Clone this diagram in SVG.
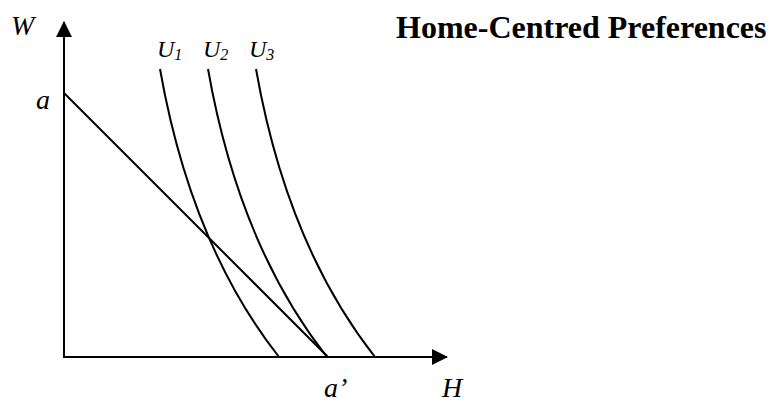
<svg xmlns="http://www.w3.org/2000/svg" width="773" height="403" viewBox="0 0 773 403">
<style>
.ax{stroke:#000;stroke-width:2;fill:none}
.ln{stroke:#000;stroke-width:2;fill:none}
.it{font-family:"Liberation Serif","Times New Roman",serif;font-style:italic;fill:#000}
.ti{font-family:"Liberation Serif","Times New Roman",serif;font-weight:bold;fill:#000}
</style>
<defs>
<marker id="arr" markerWidth="16" markerHeight="16" viewBox="0 0 16 16" refX="15" refY="8" orient="auto" markerUnits="userSpaceOnUse">
<path d="M0,0 L16,8 L0,16 Z" fill="#000"/>
</marker>
</defs>
<g id="connectors">
<line class="ax" x1="64" y1="357" x2="64" y2="22" marker-end="url(#arr)"/>
<line class="ax" x1="63" y1="357" x2="447" y2="357" marker-end="url(#arr)"/>
<line class="ln" x1="64" y1="93" x2="328" y2="357"/>
</g>
<g id="U1"><path class="ln" d="M160,69 Q191,245 279,357"/><text class="it" x="157" y="57" font-size="24">U<tspan font-size="16" dy="3">1</tspan></text></g>
<g id="U2"><path class="ln" d="M208,69 Q239,245 327,357"/><text class="it" x="203" y="57" font-size="24">U<tspan font-size="16" dy="3">2</tspan></text></g>
<g id="U3"><path class="ln" d="M256,69 Q287,245 375,357"/><text class="it" x="249" y="57" font-size="24">U<tspan font-size="16" dy="3">3</tspan></text></g>
<g id="labels">
<text class="it" x="11" y="35" font-size="28">W</text>
<text class="it" x="36" y="109" font-size="28">a</text>
<text class="it" x="324" y="397" font-size="28">a’</text>
<text class="it" x="442" y="397" font-size="28">H</text>
</g>
<g id="title"><text class="ti" x="396" y="38" font-size="32">Home-Centred Preferences</text></g>
</svg>
